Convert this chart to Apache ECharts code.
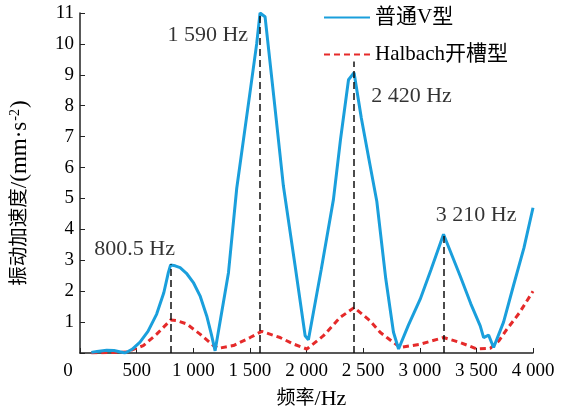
<!DOCTYPE html>
<html>
<head>
<meta charset="utf-8">
<script src="https://cdn.jsdelivr.net/npm/echarts@6/dist/echarts.min.js"></script>
<style>html,body{margin:0;padding:0;background:#fff}#c{width:573px;height:415px}</style>
</head>
<body>
<div id="c"></div>
<script>
// 普通V型 (blue)
const vFreq = [100,150,236,300,398,460,530,600,677,740,780,800,840,884,940,1001,1060,1119,1160,1193,1311,1384,1500,1560,1590,1634,1714,1796,1899,1988,2017,2130,2238,2300,2371,2420,2484,2560,2621,2700,2768,2813,2900,3004,3100,3210,3357,3450,3534,3564,3608,3652,3740,3829,3920,4000];
const vAcc  = [0.02,0.05,0.09,0.08,0.0,0.12,0.35,0.7,1.26,1.95,2.6,2.85,2.82,2.76,2.58,2.28,1.85,1.2,0.6,0.07,2.6,5.33,8.4,10.0,11.0,10.88,8.2,5.4,2.83,0.56,0.43,2.7,4.97,6.9,8.84,9.07,7.6,6.1,4.9,2.4,0.67,0.13,0.9,1.74,2.7,3.84,2.49,1.6,0.88,0.5,0.58,0.18,1.0,2.2,3.4,4.7];
// Halbach开槽型 (red)
const hFreq = [100,200,300,412,559,677,801,850,942,1060,1178,1222,1355,1502,1605,1767,1885,2003,2150,2297,2421,2562,2650,2710,2827,3000,3210,3357,3504,3622,3700,3770,3880,4000];
const hAcc  = [0.0,0.01,0.02,0.03,0.24,0.61,1.07,1.05,0.94,0.61,0.24,0.15,0.24,0.5,0.7,0.5,0.29,0.13,0.56,1.15,1.47,1.04,0.67,0.5,0.18,0.28,0.5,0.34,0.13,0.15,0.4,0.77,1.3,2.0];
// peak markers
const peakFreq = [800.5,1590,2420,3210];
const peakTop  = [2.87,11,9.43,3.9];
const peakText = ['800.5 Hz','1 590 Hz','2 420 Hz','3 210 Hz'];
const textX = [839,1484,2571,3498];
const textY = [3.35,10.29,8.3,4.45];
const textPos = ['left','left','right','inside'];

const FONT = '"Liberation Serif","Times New Roman","Noto Sans CJK SC",serif';
const fmtK = v => { const s = String(v); return s.length > 3 ? s.slice(0, s.length-3) + ' ' + s.slice(-3) : s; };

const chart = echarts.init(document.getElementById('c'), null, {renderer:'canvas'});
chart.setOption({
  animation:false,
  textStyle:{fontFamily:FONT},
  grid:{left:80, right:40, top:13, bottom:61, containLabel:false},
  legend:{
    data:['普通V型','Halbach开槽型'], orient:'vertical', left:318, top:2,
    itemWidth:46, itemHeight:18, itemGap:16,
    itemStyle:{opacity:0},
    textStyle:{fontFamily:FONT, fontSize:21, color:'#000'}
  },
  xAxis:{
    type:'value', min:0, max:4000, interval:500,
    name:'{c|频率}{l|/Hz}', nameLocation:'middle', nameGap:35,
    nameTextStyle:{fontFamily:FONT, fontSize:20, color:'#000', padding:[0,0,0,10],
      rich:{c:{fontSize:19, fontFamily:FONT, color:'#000'}, l:{fontSize:22, fontFamily:FONT, color:'#000'}}},
    axisLine:{lineStyle:{color:'#222', width:1.5}},
    axisTick:{inside:true, length:5, lineStyle:{color:'#222'}},
    splitLine:{show:false},
    axisLabel:{margin:9, fontSize:19, color:'#000', fontFamily:FONT,
      formatter: v => v === 0 ? '{o|0}' : fmtK(v),
      rich:{o:{fontSize:19, fontFamily:FONT, color:'#000', padding:[0,24,0,0]}}}
  },
  yAxis:{
    type:'value', min:0, max:11, interval:1,
    name:'{c|振动加速度}{l|/(mm·s}{sup|-2}{l|)}', nameLocation:'middle', nameGap:48,
    nameTextStyle:{fontFamily:FONT, fontSize:20, color:'#000', padding:[0,20,0,0],
      rich:{
        c:{fontSize:19.5, fontFamily:FONT, color:'#000'},
        l:{fontSize:23, fontFamily:FONT, color:'#000'},
        sup:{fontSize:14, verticalAlign:'top', padding:[0,1,10,1], fontFamily:FONT, color:'#000'}}},
    axisLine:{show:true, lineStyle:{color:'#222', width:1.5}},
    axisTick:{show:true, inside:true, length:5, lineStyle:{color:'#222'}},
    splitLine:{show:false},
    axisLabel:{margin:6, fontSize:19, color:'#000', fontFamily:FONT,
      formatter: v => v === 0 ? '' : String(v)}
  },
  series:[
    {
      name:'普通V型', type:'line', symbol:'none', smooth:false,
      data: vFreq.map((f,i)=>[f, vAcc[i]]),
      lineStyle:{color:'#1a9fdc', width:3}, itemStyle:{color:'#1a9fdc'},
      z:3,
      markLine:{
        silent:true, symbol:['none','none'], label:{show:false},
        lineStyle:{color:'#111', type:[7,4], width:1.5},
        data: peakFreq.map((f,i)=>[{coord:[f,0]},{coord:[f,peakTop[i]]}])
      }
    },
    {
      name:'Halbach开槽型', type:'line', symbol:'none', smooth:false,
      data: hFreq.map((f,i)=>[f, hAcc[i]]),
      lineStyle:{color:'#e52a2a', width:3, type:[6,4]}, itemStyle:{color:'#e52a2a'},
      z:2
    },
    {
      name:'ann', type:'scatter', symbolSize:0, silent:true,
      data: peakText.map((t,i)=>({value:[textX[i], textY[i]], name:t,
        label:{show:true, position:textPos[i], distance:0, formatter:t,
          fontSize:22, color:'#000', fontFamily:FONT}}))
    }
  ]
});
</script>
</body>
</html>
